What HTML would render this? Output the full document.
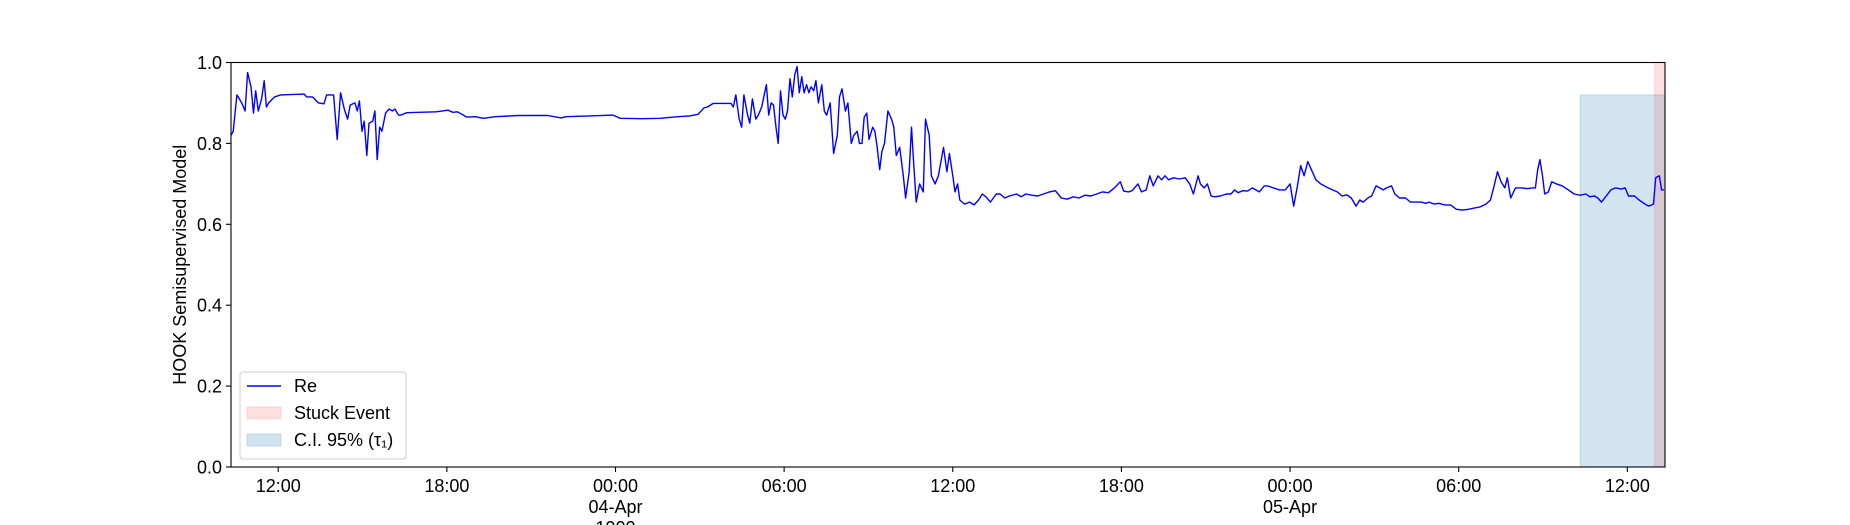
<!DOCTYPE html>
<html><head><meta charset="utf-8"><style>
html,body{margin:0;padding:0;background:#fff;}
svg{display:block;font-family:"Liberation Sans","DejaVu Sans",sans-serif;}
</style></head><body>
<svg id="chart" width="1850" height="525" viewBox="0 0 1850 525" xmlns="http://www.w3.org/2000/svg">
<rect x="0" y="0" width="1850" height="525" fill="#fff"/>
<g id="bands"></g>
<g id="series"></g>
<g id="axes"></g>
<g id="legend"></g>
</svg>
<script>
// Data (hours since 03-Apr 00:00)
const hours = [10.32,10.40,10.53,10.70,10.82,10.91,11.03,11.12,11.20,11.29,11.41,11.50,11.58,11.66,11.87,12.08,12.92,13.01,13.22,13.43,13.63,13.72,13.97,14.10,14.22,14.35,14.47,14.56,14.73,14.81,14.89,14.98,15.06,15.15,15.23,15.36,15.44,15.52,15.61,15.69,15.82,15.94,16.07,16.15,16.28,16.36,16.57,17.62,18.04,18.21,18.38,18.59,18.71,19.01,19.30,19.72,20.56,21.61,21.82,22.07,22.24,23.08,23.91,24.17,24.96,25.59,26.22,26.64,26.94,27.15,27.27,27.48,28.11,28.19,28.28,28.40,28.49,28.57,28.70,28.78,28.87,28.99,29.08,29.20,29.29,29.37,29.45,29.54,29.62,29.71,29.79,29.87,29.96,30.04,30.12,30.21,30.29,30.38,30.46,30.54,30.63,30.71,30.80,30.88,30.96,31.05,31.13,31.22,31.34,31.43,31.51,31.64,31.76,31.89,31.97,32.06,32.18,32.27,32.39,32.48,32.60,32.68,32.77,32.85,32.94,33.02,33.15,33.23,33.31,33.40,33.48,33.57,33.69,33.82,33.90,33.99,34.11,34.24,34.32,34.45,34.53,34.61,34.70,34.82,34.95,35.03,35.16,35.24,35.37,35.49,35.67,35.79,35.88,36.00,36.08,36.17,36.25,36.34,36.42,36.59,36.76,36.92,37.05,37.18,37.34,37.55,37.68,37.85,38.01,38.27,38.43,38.60,38.81,39.02,39.23,39.44,39.65,39.86,40.07,40.28,40.49,40.70,40.91,41.12,41.33,41.54,41.75,41.96,42.08,42.25,42.38,42.59,42.71,42.88,43.01,43.13,43.30,43.43,43.55,43.68,43.85,44.06,44.27,44.43,44.56,44.73,44.81,44.94,45.06,45.19,45.31,45.52,45.73,45.90,46.03,46.15,46.32,46.49,46.66,46.78,46.91,47.08,47.20,47.41,47.62,47.83,48.00,48.13,48.25,48.38,48.50,48.63,48.76,48.92,49.09,49.30,49.51,49.68,49.85,50.02,50.18,50.35,50.48,50.60,50.77,50.90,51.06,51.19,51.31,51.44,51.61,51.73,51.90,52.11,52.28,52.45,52.66,52.83,52.95,53.12,53.29,53.50,53.71,53.92,54.13,54.34,54.55,54.76,54.97,55.13,55.26,55.38,55.51,55.64,55.73,55.85,56.02,56.23,56.44,56.60,56.73,56.81,56.89,56.98,57.06,57.19,57.31,57.48,57.69,57.90,58.11,58.32,58.53,58.66,58.83,58.95,59.08,59.25,59.41,59.58,59.79,59.92,60.04,60.25,60.42,60.63,60.76,60.93,61.01,61.14,61.22,61.30];
const reValues = [.82,.83,.92,.90,.88,.975,.94,.875,.93,.88,.91,.955,.89,.90,.915,.92,.922,.915,.915,.90,.898,.92,.92,.81,.925,.885,.86,.895,.90,.88,.905,.83,.855,.77,.85,.855,.88,.76,.84,.83,.875,.885,.88,.885,.87,.87,.876,.878,.882,.877,.878,.87,.865,.866,.862,.866,.869,.869,.866,.863,.866,.868,.87,.862,.861,.862,.866,.868,.872,.888,.89,.899,.899,.89,.92,.86,.84,.92,.87,.85,.91,.86,.87,.89,.92,.945,.87,.90,.895,.84,.80,.93,.87,.86,.88,.96,.915,.97,.99,.925,.965,.925,.945,.925,.94,.93,.955,.90,.945,.88,.87,.90,.775,.82,.915,.935,.88,.90,.80,.82,.83,.80,.80,.865,.875,.81,.84,.83,.79,.735,.78,.80,.88,.86,.84,.77,.79,.72,.665,.73,.84,.75,.655,.70,.68,.86,.82,.72,.70,.72,.79,.73,.775,.72,.68,.70,.66,.655,.65,.655,.648,.66,.675,.668,.655,.675,.675,.665,.67,.675,.668,.675,.672,.67,.675,.68,.683,.665,.662,.668,.665,.672,.67,.675,.68,.678,.69,.705,.682,.68,.683,.70,.68,.685,.72,.695,.72,.71,.72,.71,.715,.712,.715,.70,.675,.72,.70,.69,.70,.67,.668,.67,.675,.675,.685,.678,.683,.682,.69,.685,.68,.695,.695,.69,.685,.685,.70,.645,.69,.745,.72,.755,.735,.71,.70,.692,.685,.68,.67,.673,.665,.645,.66,.655,.665,.67,.695,.69,.685,.69,.695,.675,.665,.665,.655,.655,.655,.652,.655,.65,.652,.648,.648,.637,.635,.637,.64,.643,.65,.66,.695,.73,.705,.69,.715,.665,.69,.69,.688,.69,.69,.735,.76,.72,.675,.68,.705,.70,.695,.685,.675,.672,.675,.668,.67,.665,.655,.67,.685,.69,.687,.69,.67,.67,.66,.65,.645,.65,.715,.72,.685,.685];
const xDomain = [10.32, 61.34];
const xTickHours = [12,18,24,30,36,42,48,54,60];
const xTickLabels = ["12:00","18:00","00:00\n04-Apr\n1900","06:00","12:00","18:00","00:00\n05-Apr","06:00","12:00"];
const yTicks = [0,0.2,0.4,0.6,0.8,1.0];
const yTickLabels = ["0.0","0.2","0.4","0.6","0.8","1.0"];
const ciBand = [58.32, 61.34, 0.92];
const stuckBand = [60.97, 61.34, 1.0];

const L=231,R=1665,T=62.5,B=467;
const NS="http://www.w3.org/2000/svg";
const xs=h=>L+(h-xDomain[0])/(xDomain[1]-xDomain[0])*(R-L);
const ys=v=>B-v*(B-T);
function mk(tag,attrs,parent){const e=document.createElementNS(NS,tag);for(const k in attrs)e.setAttribute(k,attrs[k]);parent.appendChild(e);return e;}
const bands=document.getElementById('bands'),series=document.getElementById('series'),axes=document.getElementById('axes'),legend=document.getElementById('legend');

const ci=mk('rect',{x:xs(ciBand[0]),y:ys(ciBand[2]),width:xs(ciBand[1])-xs(ciBand[0]),height:ys(0)-ys(ciBand[2]),fill:'#1f77b4','fill-opacity':0.2,stroke:'#1f77b4','stroke-opacity':0.2},bands);


const st=mk('rect',{x:xs(stuckBand[0]),y:ys(stuckBand[2]),width:xs(stuckBand[1])-xs(stuckBand[0]),height:ys(0)-ys(stuckBand[2]),fill:'#ff0000','fill-opacity':0.12,stroke:'#ff0000','stroke-opacity':0.12},bands);



const pts=hours.map((h,i)=>xs(h).toFixed(1)+','+ys(reValues[i]).toFixed(1)).join(' ');
const line=mk('polyline',{points:pts,fill:'none',stroke:'#0000ff','stroke-width':1.4,'stroke-linejoin':'round'},series);



const frame=mk('rect',{x:L,y:T,width:R-L,height:B-T,fill:'none',stroke:'#000','stroke-width':1.1},axes);



yTicks.forEach((v,i)=>{
  const y=ys(v);
  mk('line',{x1:L-5,y1:y,x2:L,y2:y,stroke:'#000','stroke-width':1.1},axes);
  const t=mk('text',{x:L-9,y:y+6.5,'text-anchor':'end','font-size':18,fill:'#000'},axes);
  t.textContent=yTickLabels[i];
  
  
});
xTickHours.forEach((h,i)=>{
  const x=xs(h);
  mk('line',{x1:x,y1:B,x2:x,y2:B+5,stroke:'#000','stroke-width':1.1},axes);
  const t=mk('text',{x:x,y:B+25,'text-anchor':'middle','font-size':18,fill:'#000'},axes);
  
  
  xTickLabels[i].split('\n').forEach((s,j)=>{const ts=mk('tspan',{x:x,dy:j?21:0},t);ts.textContent=s;});
});
const yl=mk('text',{x:0,y:0,transform:'translate(186,'+((T+B)/2)+') rotate(-90)','text-anchor':'middle','font-size':18,fill:'#000'},axes);
yl.textContent='HOOK Semisupervised Model';



const lb=mk('rect',{x:240,y:372,width:166,height:87,rx:3,fill:'#fff','fill-opacity':0.8,stroke:'#ccc'},legend);


const e1=mk('line',{x1:247,y1:386,x2:281,y2:386,stroke:'#0000ff','stroke-width':1.4},legend);


const e2=mk('rect',{x:247,y:407,width:34,height:12,fill:'#ff0000','fill-opacity':0.12,stroke:'#ff0000','stroke-opacity':0.12},legend);


const e3=mk('rect',{x:247,y:434,width:34,height:12,fill:'#1f77b4','fill-opacity':0.2,stroke:'#1f77b4','stroke-opacity':0.2},legend);


[['Re',392,'legend-re'],['Stuck Event',419,'legend-stuck-event'],['C.I. 95% (τ₁)',446,'legend-ci']].forEach(a=>{
  const t=mk('text',{x:294,y:a[1],'font-size':18,fill:'#000'},legend);
  t.textContent=a[0];
  
  
});
</script>
</body></html>
